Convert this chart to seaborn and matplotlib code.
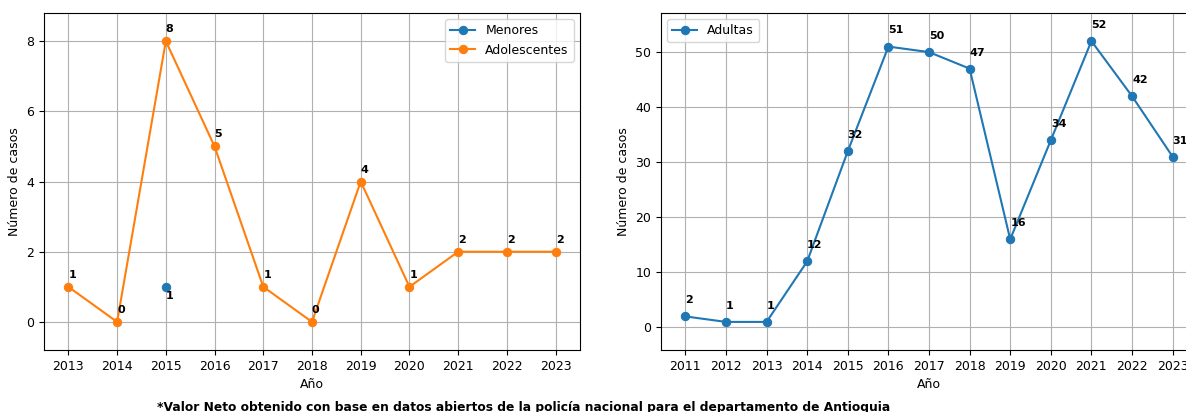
import matplotlib
matplotlib.use("Agg")
import matplotlib.pyplot as plt
import seaborn as sns
import pandas as pd

# datos
anios_menores = [2015]
menores = [1]

anios_adol = [2013, 2014, 2015, 2016, 2017, 2018, 2019, 2020, 2021, 2022, 2023]
adolescentes = [1, 0, 8, 5, 1, 0, 4, 1, 2, 2, 2]

anios_adultas = [2011, 2012, 2013, 2014, 2015, 2016, 2017, 2018, 2019, 2020, 2021, 2022, 2023]
adultas = [2, 1, 1, 12, 32, 51, 50, 47, 16, 34, 52, 42, 31]

nota = "*Valor Neto obtenido con base en datos abiertos de la policía nacional para el departamento de Antioquia"

df_men = pd.DataFrame({"Año": anios_menores, "casos": menores})
df_adol = pd.DataFrame({"Año": anios_adol, "casos": adolescentes})
df_adu = pd.DataFrame({"Año": anios_adultas, "casos": adultas})

plt.rcParams["font.size"] = 9

fig = plt.figure(figsize=(11.86, 4.12), dpi=100)
W, H = 1186, 412
ax1 = fig.add_axes([44 / W, 62 / H, 536 / W, 337 / H])
ax2 = fig.add_axes([661 / W, 62 / H, 536 / W, 337 / H])

azul, naranja = "#1f77b4", "#ff7f0e"

# grafico izquierdo
sns.lineplot(data=df_men, x="Año", y="casos", marker="o", color=azul,
             markeredgecolor=azul, markersize=6, label="Menores", ax=ax1)
sns.lineplot(data=df_adol, x="Año", y="casos", marker="o", color=naranja,
             markeredgecolor=naranja, markersize=6, label="Adolescentes", ax=ax1)
for x, y in zip(anios_menores, menores):
    ax1.annotate(str(y), (x, y), xytext=(0, -3), textcoords="offset points",
                 ha="left", va="top", fontsize=8, fontweight="bold")
for x, y in zip(anios_adol, adolescentes):
    ax1.annotate(str(y), (x, y), xytext=(0, 5), textcoords="offset points",
                 ha="left", va="bottom", fontsize=8, fontweight="bold")
ax1.set_xticks(anios_adol)
ax1.margins(y=0.1)
ax1.set_xlabel("Año")
ax1.set_ylabel("Número de casos")
ax1.grid(True)
ax1.legend(loc="upper right")

# grafico derecho
sns.lineplot(data=df_adu, x="Año", y="casos", marker="o", color=azul,
             markeredgecolor=azul, markersize=6, label="Adultas", ax=ax2)
for x, y in zip(anios_adultas, adultas):
    ax2.annotate(str(y), (x, y), xytext=(0, 8), textcoords="offset points",
                 ha="left", va="bottom", fontsize=8, fontweight="bold")
ax2.set_xticks(anios_adultas)
ax2.margins(y=0.1)
ax2.set_xlabel("Año")
ax2.set_ylabel("Número de casos")
ax2.grid(True)
ax2.legend(loc="upper left")

fig.text(524 / W, 5 / H, nota, ha="center", va="center", fontsize=8.8, fontweight="bold")

fig.savefig("out.png", dpi=100)
